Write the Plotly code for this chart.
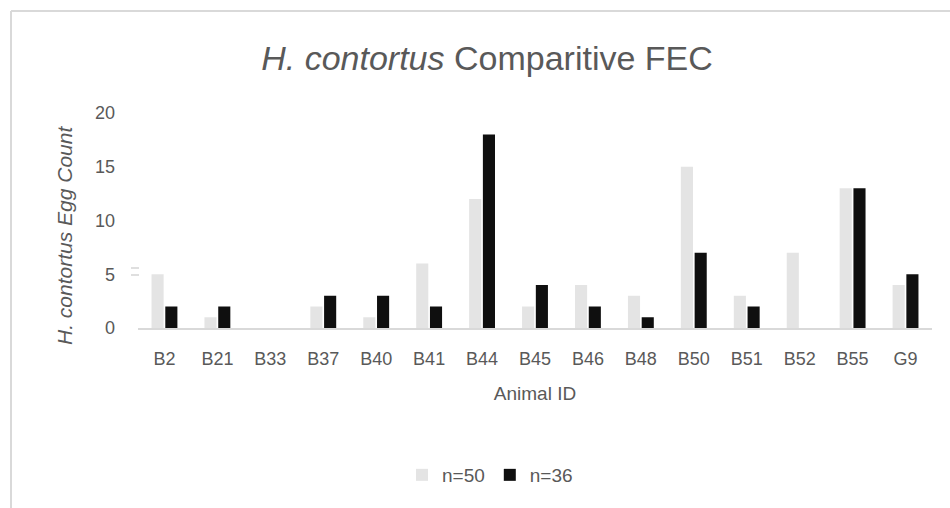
import plotly.graph_objects as go

# Faecal egg counts per animal for two sampling groups
animal_ids = ["B2", "B21", "B33", "B37", "B40", "B41", "B44", "B45",
              "B46", "B48", "B50", "B51", "B52", "B55", "G9"]
count_n50 = [5, 1, 0, 2, 1, 6, 12, 2, 4, 3, 15, 3, 7, 13, 4]
count_n36 = [2, 2, 0, 3, 3, 2, 18, 4, 2, 1, 7, 2, 0, 13, 5]

W, H = 950, 508
ML, MR, MT, MB = 138, 18, 113, 180
PW = W - ML - MR
PH = H - MT - MB

FONT = "Liberation Sans, Arial, sans-serif"
TXT = "#595959"


def px_x(p):
    return (p - ML) / PW


def px_y(p):
    return (H - MB - p) / PH


fig = go.Figure()
fig.add_trace(go.Bar(x=animal_ids, y=count_n50, name="n=50",
                     marker=dict(color="#e4e4e4", line=dict(width=0))))
fig.add_trace(go.Bar(x=animal_ids, y=count_n36, name="n=36",
                     marker=dict(color="#0f0f0f", line=dict(width=0))))

fig.update_layout(
    width=W, height=H,
    margin=dict(l=ML, r=MR, t=MT, b=MB),
    paper_bgcolor="white", plot_bgcolor="white",
    barmode="group", bargap=0.48, bargroupgap=0.12,
    font=dict(family=FONT, color=TXT, size=18),
    title=dict(text="<i>H. contortus</i> Comparitive FEC",
               x=487 / W, y=1 - 58 / H, xanchor="center", yanchor="middle",
               font=dict(family=FONT, size=34, color=TXT)),
    xaxis=dict(showline=True, linecolor="#d9d9d9", linewidth=1.5,
               ticks="", showgrid=False, tickfont=dict(size=18, color=TXT),
               ticklabelstandoff=14,
               title=dict(text="Animal ID", font=dict(size=19, color=TXT),
                          standoff=18)),
    yaxis=dict(range=[0, 20], tickvals=[0, 5, 10, 15, 20], showgrid=False,
               zeroline=False, showline=False, ticks="",
               tickfont=dict(size=18, color=TXT), ticklabelstandoff=22),
    legend=dict(orientation="h", x=490 / W, xref="container", y=1 - 475 / H,
                yref="container", xanchor="center", yanchor="middle",
                font=dict(size=19, color=TXT), itemwidth=30,
                traceorder="normal"),
    showlegend=True,
)

# Rotated y-axis title with italic species name
fig.add_annotation(text="<i>H. contortus Egg Count</i>", textangle=-90,
                   xref="paper", yref="paper", x=px_x(64), y=px_y(236),
                   showarrow=False, font=dict(size=21, color=TXT),
                   xanchor="center", yanchor="middle")

# Light chart-area frame along the top and left edges
fig.add_shape(type="line", xref="paper", yref="paper",
              x0=px_x(11), x1=px_x(960), y0=px_y(11), y1=px_y(11),
              line=dict(color="#d9d9d9", width=2))
fig.add_shape(type="line", xref="paper", yref="paper",
              x0=px_x(11), x1=px_x(11), y0=px_y(11), y1=px_y(520),
              line=dict(color="#d9d9d9", width=2))

# Small stray marks next to the 5 tick
for yy in (268, 275):
    fig.add_shape(type="line", xref="paper", yref="paper",
                  x0=px_x(131), x1=px_x(139), y0=px_y(yy), y1=px_y(yy),
                  line=dict(color="#d4d4d4", width=1.5))

fig.write_html("out.html")
